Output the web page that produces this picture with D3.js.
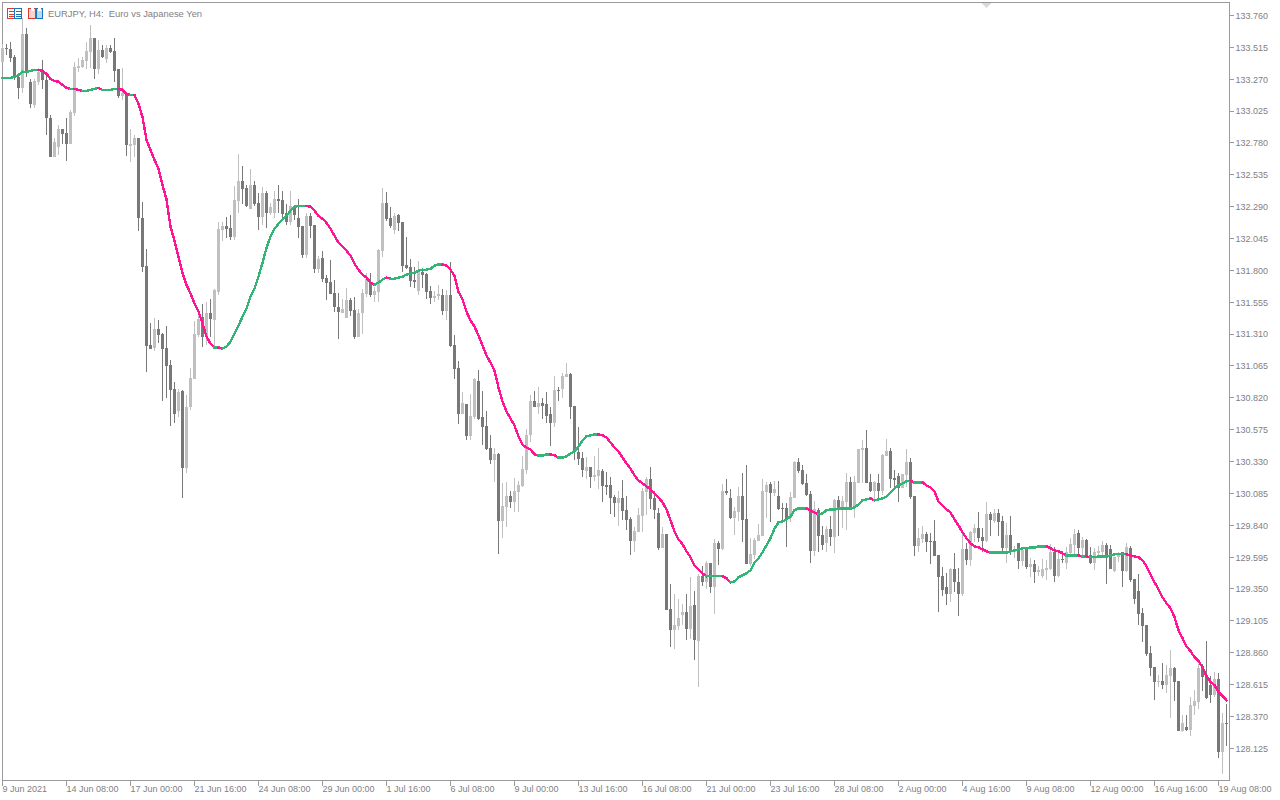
<!DOCTYPE html>
<html>
<head>
<meta charset="utf-8">
<script src="https://cdn.jsdelivr.net/npm/d3@7"></script>
<style>
    body { margin: 0; background: #fff; }
    text { font-family: "Liberation Sans", sans-serif; font-size: 9px; fill: #7f8085; }
    .title { font-size: 9.4px; }
</style>
</head>
<body>
<div id="chart"></div>
<script>
// EURJPY H4 candles
const priceTicks = [133.760, 133.515, 133.270, 133.025, 132.780, 132.535, 132.290, 132.045, 131.800, 131.555, 131.310, 131.065,
    130.820, 130.575, 130.330, 130.085, 129.840, 129.595, 129.350, 129.105, 128.860, 128.615, 128.370, 128.125];
const timeLabels = ["9 Jun 2021", "14 Jun 08:00", "17 Jun 00:00", "21 Jun 16:00", "24 Jun 08:00", "29 Jun 00:00", "1 Jul 16:00",
    "6 Jul 08:00", "9 Jul 00:00", "13 Jul 16:00", "16 Jul 08:00", "21 Jul 00:00", "23 Jul 16:00", "28 Jul 08:00", "2 Aug 00:00",
    "4 Aug 16:00", "9 Aug 08:00", "12 Aug 00:00", "16 Aug 16:00", "19 Aug 08:00"];

const opens = [133.403,133.510,133.503,133.441,133.288,133.203,133.618,133.249,133.073,133.249,133.334,133.265,132.973,132.673,132.750,132.888,132.858,132.773,133.011,133.357,
133.364,133.411,133.480,133.587,133.349,133.495,133.426,133.510,133.487,133.349,133.142,133.149,132.758,132.765,132.819,132.205,131.836,131.229,131.206,131.352,
131.314,131.206,131.076,130.891,130.715,130.876,130.277,130.746,130.968,131.306,131.444,131.299,131.475,131.421,131.636,132.113,132.143,132.128,132.059,132.335,
132.489,132.435,132.274,132.458,132.320,132.212,132.397,132.243,132.243,132.351,132.343,132.243,132.174,132.289,132.205,132.143,131.921,132.220,132.151,131.813,
131.898,131.744,131.713,131.629,131.521,131.475,131.437,131.575,131.498,131.291,131.475,131.621,131.713,131.613,131.636,131.951,132.320,132.205,132.113,132.228,
132.174,131.844,131.828,131.729,131.644,131.790,131.775,131.644,131.590,131.606,131.613,131.491,131.613,131.229,131.053,130.699,130.776,130.523,130.676,130.953,
130.669,130.600,130.431,130.339,130.385,129.870,129.978,130.062,130.016,130.093,130.139,130.262,130.531,130.792,130.746,130.784,130.769,130.692,130.630,130.884,
130.891,130.984,131.007,130.761,130.400,130.354,130.254,130.285,130.208,130.216,130.254,130.147,130.147,130.054,130.008,130.047,129.955,129.885,129.716,129.786,
129.908,130.093,130.193,130.047,129.931,129.663,129.770,129.194,129.033,129.064,129.148,129.171,129.041,129.225,128.948,129.448,129.402,129.548,129.363,129.701,
129.655,130.101,130.047,129.893,129.939,130.062,129.885,129.540,129.609,129.716,129.755,130.093,130.154,130.085,130.062,129.970,129.970,129.893,130.047,130.323,
130.262,130.162,130.077,129.640,129.955,129.763,129.701,129.809,129.747,130.031,129.962,130.016,130.170,129.970,130.162,130.415,130.438,130.170,130.101,130.162,
130.101,130.369,130.408,130.200,130.216,130.123,130.223,130.323,130.062,129.678,129.732,129.770,129.716,129.716,129.609,129.448,129.363,129.309,129.501,129.402,
129.309,129.655,129.570,129.778,129.816,129.747,129.716,129.924,129.870,129.932,129.870,129.663,129.763,129.632,129.701,129.563,129.663,129.517,129.540,129.478,
129.448,129.494,129.501,129.632,129.448,129.578,129.548,129.624,129.686,129.778,129.663,129.724,129.609,129.548,129.624,129.632,129.686,129.655,129.486,129.594,
129.632,129.486,129.663,129.425,129.332,129.164,129.071,128.856,128.749,128.634,128.641,128.611,128.680,128.741,128.641,128.257,128.288,128.265,128.449,128.480,
128.741,128.680,128.611,128.534,128.657,128.096,128.319];

const highs = [133.541,133.541,133.556,133.457,133.303,133.741,133.664,133.272,133.272,133.357,133.418,133.295,132.996,132.819,132.919,132.888,132.973,133.034,133.403,133.434,
133.441,133.556,133.687,133.587,133.572,133.533,133.533,133.533,133.587,133.349,133.357,133.149,132.888,132.842,132.819,132.328,131.967,131.398,131.437,131.421,
131.322,131.375,131.114,130.938,130.891,130.884,130.845,131.053,131.414,131.483,131.544,131.560,131.583,131.659,132.174,132.174,132.212,132.228,132.451,132.696,
132.604,132.458,132.581,132.489,132.397,132.443,132.412,132.320,132.412,132.458,132.412,132.312,132.412,132.305,132.351,132.143,132.243,132.243,132.151,131.913,
131.951,131.767,131.882,131.729,131.629,131.583,131.667,131.590,131.598,131.506,131.659,131.782,131.782,131.675,131.967,132.435,132.404,132.289,132.243,132.235,
132.174,132.059,131.890,131.828,131.875,131.821,131.782,131.683,131.644,131.690,131.659,131.652,131.867,131.306,131.107,130.861,130.776,130.853,130.976,131.037,
130.876,130.715,130.531,130.438,130.392,130.162,130.170,130.101,130.200,130.177,130.369,130.584,130.845,130.876,130.907,130.822,130.868,130.753,130.991,130.907,
131.014,131.091,131.014,130.761,130.592,130.400,130.362,130.285,130.369,130.438,130.269,130.246,130.208,130.070,130.101,130.185,130.062,129.901,129.824,129.970,
130.123,130.208,130.285,130.101,129.970,129.824,129.770,129.386,129.309,129.271,129.233,129.309,129.440,129.332,129.463,129.524,129.563,129.548,129.732,129.716,
130.154,130.193,130.116,129.978,130.131,130.239,130.300,129.739,129.739,129.847,130.193,130.170,130.170,130.177,130.177,130.008,130.008,130.093,130.331,130.354,
130.300,130.231,130.101,130.024,129.970,129.832,129.832,129.908,130.039,130.062,130.062,130.239,130.208,130.216,130.423,130.492,130.569,130.231,130.177,130.231,
130.385,130.507,130.438,130.262,130.239,130.231,130.423,130.354,130.062,129.816,129.832,129.786,129.778,129.878,129.609,129.517,129.471,129.509,129.624,129.509,
129.786,129.701,129.793,129.847,129.939,129.816,130.016,129.939,129.962,129.962,129.908,129.855,129.908,129.678,129.701,129.670,129.670,129.586,129.570,129.524,
129.578,129.570,129.693,129.670,129.640,129.640,129.670,129.739,129.809,129.801,129.747,129.732,129.670,129.663,129.678,129.716,129.701,129.686,129.594,129.632,
129.632,129.701,129.678,129.425,129.463,129.202,129.071,128.910,128.749,128.687,128.780,128.764,128.879,128.749,128.641,128.380,128.380,128.518,128.572,128.772,
128.772,128.948,128.680,128.710,128.703,128.396,128.465];

const lows = [133.403,133.457,133.403,133.265,133.119,133.165,133.288,133.050,133.050,133.226,133.195,132.842,132.673,132.673,132.689,132.773,132.643,132.773,132.988,133.326,
133.357,133.349,133.357,133.272,133.311,133.434,133.395,133.472,133.249,133.126,133.111,132.681,132.635,132.673,132.105,131.790,131.022,131.199,131.183,131.245,
130.799,130.822,130.607,130.630,130.676,130.047,130.239,130.723,130.961,131.291,131.214,131.229,131.291,131.222,131.613,132.028,132.051,132.036,132.036,132.243,
132.312,132.289,132.274,132.297,132.113,132.151,132.128,132.228,132.205,132.243,132.205,132.151,132.151,132.189,132.051,131.898,131.898,132.051,131.782,131.782,
131.713,131.575,131.621,131.483,131.276,131.475,131.437,131.452,131.276,131.291,131.314,131.598,131.598,131.560,131.560,131.905,132.182,132.128,132.082,132.105,
131.790,131.813,131.675,131.667,131.613,131.667,131.583,131.544,131.560,131.575,131.460,131.421,131.214,130.968,130.615,130.692,130.492,130.492,130.661,130.653,
130.461,130.415,130.315,130.170,129.617,129.739,129.824,129.970,129.939,129.939,130.131,130.231,130.477,130.746,130.692,130.661,130.623,130.446,130.592,130.792,
130.822,130.984,130.661,130.339,130.300,130.208,130.193,130.123,130.177,130.116,130.016,130.070,129.924,129.901,129.832,129.878,129.801,129.609,129.632,129.786,
129.786,129.916,129.962,129.885,129.647,129.663,129.187,128.902,128.887,129.033,129.071,128.956,128.964,128.803,128.595,129.371,129.348,129.317,129.156,129.532,
129.647,130.070,129.885,129.763,129.870,129.709,129.540,129.524,129.578,129.716,129.755,129.893,129.862,130.062,129.955,129.878,129.670,129.862,130.047,130.239,
130.147,130.062,129.548,129.601,129.632,129.647,129.632,129.678,129.624,129.755,129.816,129.801,129.962,129.893,130.162,130.162,130.162,130.093,130.016,130.024,
130.070,130.369,130.123,130.123,130.016,130.123,130.131,130.039,129.601,129.632,129.701,129.632,129.540,129.601,129.171,129.294,129.225,129.248,129.325,129.140,
129.294,129.532,129.524,129.709,129.709,129.632,129.709,129.755,129.855,129.755,129.640,129.548,129.609,129.586,129.501,129.524,129.501,129.440,129.394,129.448,
129.432,129.417,129.494,129.402,129.440,129.548,129.501,129.617,129.617,129.594,129.594,129.594,129.540,129.494,129.594,129.594,129.386,129.501,129.478,129.555,
129.363,129.478,129.402,129.233,129.071,128.941,128.833,128.680,128.495,128.595,128.580,128.549,128.357,128.488,128.257,128.250,128.257,128.219,128.380,128.426,
128.565,128.503,128.472,128.518,128.050,127.927,128.142];

const closes = [133.510,133.503,133.434,133.288,133.203,133.618,133.318,133.080,133.257,133.326,133.265,132.973,132.673,132.788,132.888,132.850,132.773,133.019,133.364,133.372,
133.418,133.487,133.587,133.349,133.495,133.441,133.510,133.480,133.334,133.142,133.165,132.765,132.773,132.819,132.205,131.828,131.222,131.199,131.352,131.306,
131.199,131.068,130.884,130.699,130.868,130.277,130.753,130.976,131.314,131.429,131.291,131.475,131.429,131.652,132.120,132.143,132.120,132.059,132.343,132.489,
132.427,132.297,132.458,132.312,132.212,132.397,132.243,132.289,132.351,132.335,132.235,132.174,132.297,132.228,132.136,131.921,132.220,132.143,131.813,131.890,
131.736,131.706,131.621,131.521,131.483,131.506,131.575,131.491,131.291,131.475,131.629,131.736,131.613,131.644,131.959,132.320,132.197,132.143,132.220,132.166,
131.836,131.821,131.721,131.713,131.790,131.767,131.636,131.590,131.606,131.621,131.491,131.613,131.222,131.045,130.699,130.784,130.523,130.684,130.961,130.661,
130.592,130.423,130.339,130.385,129.870,129.985,130.062,130.016,130.101,130.147,130.269,130.538,130.792,130.753,130.784,130.761,130.684,130.630,130.884,130.876,
130.991,131.007,130.753,130.400,130.346,130.262,130.285,130.208,130.223,130.262,130.139,130.131,130.047,130.008,130.047,129.947,129.878,129.716,129.793,129.916,
130.101,130.193,130.039,129.955,129.663,129.770,129.187,129.033,129.071,129.125,129.171,129.041,129.217,128.956,129.448,129.402,129.548,129.363,129.701,129.655,
130.101,130.085,129.893,129.947,130.062,129.878,129.540,129.617,129.724,129.763,130.101,130.147,130.085,130.116,129.962,129.962,129.885,130.054,130.323,130.254,
130.154,130.070,129.640,129.962,129.755,129.686,129.809,129.747,130.031,129.962,130.024,130.170,129.978,130.170,130.423,130.438,130.162,130.101,130.170,130.101,
130.377,130.408,130.193,130.185,130.123,130.231,130.323,130.054,129.678,129.739,129.770,129.709,129.709,129.601,129.440,129.340,129.309,129.501,129.402,129.309,
129.655,129.570,129.786,129.816,129.739,129.716,129.924,129.878,129.932,129.862,129.663,129.763,129.640,129.647,129.563,129.647,129.517,129.540,129.478,129.494,
129.501,129.509,129.632,129.448,129.578,129.570,129.632,129.693,129.770,129.663,129.724,129.601,129.548,129.632,129.640,129.686,129.609,129.501,129.594,129.617,
129.486,129.670,129.417,129.271,129.156,129.064,128.849,128.741,128.634,128.641,128.611,128.687,128.741,128.634,128.257,128.319,128.265,128.457,128.488,128.741,
128.672,128.511,128.534,128.657,128.096,128.319,128.311];

// moving average, one value per candle
const maValues = [133.280,133.280,133.280,133.288,133.303,133.326,133.326,133.334,133.341,133.341,133.334,133.311,133.272,133.257,133.249,133.226,133.203,133.195,133.195,133.188,
133.180,133.180,133.188,133.195,133.203,133.188,133.188,133.188,133.195,133.195,133.188,133.157,133.149,133.149,133.080,132.980,132.804,132.727,132.650,132.581,
132.458,132.343,132.136,132.028,131.905,131.782,131.690,131.621,131.544,131.483,131.391,131.291,131.237,131.206,131.206,131.199,131.214,131.252,131.314,131.375,
131.444,131.506,131.598,131.659,131.752,131.859,131.974,132.059,132.120,132.159,132.189,132.220,132.259,132.289,132.297,132.297,132.297,132.289,132.259,132.220,
132.197,132.166,132.120,132.067,132.013,131.982,131.951,131.913,131.851,131.805,131.767,131.744,131.706,131.690,131.706,131.729,131.744,131.736,131.736,131.744,
131.752,131.767,131.775,131.782,131.798,131.805,131.805,131.813,131.836,131.844,131.844,131.836,131.805,131.759,131.636,131.575,131.483,131.414,131.368,131.299,
131.222,131.145,131.091,131.030,130.899,130.792,130.715,130.661,130.607,130.523,130.461,130.438,130.423,130.385,130.377,130.377,130.385,130.385,130.377,130.362,
130.362,130.369,130.392,130.408,130.446,130.492,130.523,130.531,130.538,130.538,130.531,130.515,130.477,130.438,130.408,130.362,130.315,130.277,130.223,130.185,
130.162,130.139,130.116,130.085,130.054,130.016,129.962,129.878,129.793,129.732,129.694,129.640,129.594,129.532,129.501,129.471,129.448,129.448,129.448,129.448,
129.448,129.433,129.402,129.409,129.440,129.456,129.471,129.494,129.555,129.586,129.632,129.686,129.740,129.816,129.862,129.870,129.885,129.908,129.955,129.970,
129.970,129.970,129.955,129.939,129.924,129.932,129.955,129.962,129.962,129.970,129.970,129.970,129.970,129.978,130.001,130.031,130.039,130.047,130.031,130.039,
130.047,130.062,130.093,130.123,130.147,130.162,130.177,130.185,130.170,130.170,130.170,130.147,130.131,130.101,130.024,129.993,129.962,129.939,129.885,129.839,
129.786,129.740,129.701,129.678,129.670,129.655,129.640,129.632,129.632,129.632,129.632,129.632,129.640,129.647,129.655,129.663,129.663,129.670,129.670,129.678,
129.678,129.678,129.663,129.647,129.640,129.624,129.609,129.609,129.609,129.609,129.601,129.601,129.594,129.594,129.601,129.601,129.601,129.609,129.617,129.617,
129.617,129.617,129.609,129.601,129.594,129.571,129.525,129.463,129.402,129.348,129.286,129.240,129.202,129.133,129.033,128.972,128.910,128.872,128.826,128.795,
128.749,128.680,128.634,128.611,128.557,128.526,128.495];

const width = 1280, height = 800;
const frame = {left: 2.5, top: 2.5, right: 1229.5, bottom: 780.5};
const upColor = "#c0c0c0", downColor = "#787878", riseColor = "#33b575", fallColor = "#ff1493", axisColor = "#9a9a9e";

const svg = d3.select("#chart").append("svg")
    .attr("width", width)
    .attr("height", height)
    .style("display", "block");

// Scales and axes
const x = d3.scaleLinear().domain([0, opens.length - 1]).range([2.5, 1226.5]);
const y = d3.scaleLinear().domain([priceTicks[0], priceTicks[priceTicks.length - 1]]).range([15.5, 748.3]);

const xAxis = d3.axisBottom(x)
    .tickValues(timeLabels.map((d, i) => i * 16))
    .tickFormat((d, i) => timeLabels[i])
    .tickSize(5)
    .tickSizeOuter(0)
    .offset(0);
const yAxis = d3.axisRight(y)
    .tickValues(priceTicks)
    .tickFormat(d3.format(".3f"))
    .tickSize(4)
    .tickSizeOuter(0)
    .offset(0);

svg.append("g")
    .attr("class", "x-axis axis")
    .attr("transform", `translate(0, ${frame.bottom})`)
    .call(xAxis)
    .call(g => g.select(".domain").remove())
    .call(g => g.selectAll("text").attr("text-anchor", "start").attr("x", 0).attr("y", 5.5).attr("dy", "0.71em"));
svg.append("g")
    .attr("class", "y-axis axis")
    .attr("transform", `translate(${frame.right}, 0)`)
    .call(yAxis)
    .call(g => g.select(".domain").remove())
    .call(g => g.selectAll("text").attr("x", 6).attr("y", 0.5));
svg.selectAll(".axis line").attr("stroke", axisColor).attr("shape-rendering", "crispEdges");

svg.append("rect")
    .attr("x", frame.left)
    .attr("y", frame.top)
    .attr("width", frame.right - frame.left)
    .attr("height", frame.bottom - frame.top)
    .attr("fill", "none")
    .attr("stroke", axisColor)
    .attr("shape-rendering", "crispEdges");

// shift marker on the top edge
svg.append("path")
    .attr("d", "M981.5,3 L991.5,3 L986.5,8 Z")
    .attr("fill", "#d9d9dc");

// candles
const candles = svg.append("g")
    .selectAll("g")
    .data(opens.map((d, i) => i))
    .join("g")
    .attr("fill", i => closes[i] >= opens[i] ? upColor : downColor)
    .attr("shape-rendering", "crispEdges");
candles.append("rect")
    .attr("x", i => Math.floor(x(i)))
    .attr("y", i => Math.round(y(highs[i])))
    .attr("width", 1)
    .attr("height", i => Math.max(1, Math.round(y(lows[i])) - Math.round(y(highs[i]))));
candles.append("rect")
    .attr("x", i => Math.floor(x(i)) - 1)
    .attr("y", i => Math.round(y(Math.max(opens[i], closes[i]))))
    .attr("width", 3)
    .attr("height", i => Math.max(1, Math.round(y(Math.min(opens[i], closes[i]))) - Math.round(y(Math.max(opens[i], closes[i])))));

// moving average, colour follows direction
const line = d3.line().x(d => x(d)).y(d => y(maValues[d]));
svg.append("g")
    .selectAll("path")
    .data(d3.range(1, maValues.length))
    .join("path")
    .attr("d", i => line([i - 1, i]))
    .attr("fill", "none")
    .attr("stroke", i => maValues[i] >= maValues[i - 1] ? riseColor : fallColor)
    .attr("stroke-width", 2.4)
    .attr("stroke-linecap", "square")
    .attr("shape-rendering", "crispEdges");

// title icons
const icons = svg.append("g").attr("shape-rendering", "crispEdges");
icons.append("rect").attr("x", 7.5).attr("y", 8.5).attr("width", 7).attr("height", 10).attr("fill", "#fff").attr("stroke", "#e0382e");
icons.append("rect").attr("x", 14.5).attr("y", 8.5).attr("width", 7).attr("height", 10).attr("fill", "#fff").attr("stroke", "#1b74b8");
[11, 13.5, 16].forEach(ly => {
    icons.append("rect").attr("x", 9).attr("y", ly).attr("width", 5).attr("height", 1).attr("fill", "#e0382e");
    icons.append("rect").attr("x", 16).attr("y", ly).attr("width", 5).attr("height", 1).attr("fill", "#1b74b8");
});
icons.append("rect").attr("x", 28.5).attr("y", 8.5).attr("width", 7).attr("height", 10).attr("fill", "#fbd3cb").attr("stroke", "#e0382e");
icons.append("rect").attr("x", 36.5).attr("y", 8.5).attr("width", 6).attr("height", 10).attr("fill", "#b5daf2").attr("stroke", "#1b74b8");
icons.append("rect").attr("x", 31).attr("y", 8).attr("width", 3).attr("height", 3).attr("fill", "#fff");
icons.append("rect").attr("x", 38).attr("y", 8).attr("width", 3).attr("height", 3).attr("fill", "#fff");

// add title
svg.append("text")
    .attr("class", "title")
    .attr("x", 48)
    .attr("y", 17)
    .text("EURJPY, H4:  Euro vs Japanese Yen")
    .style("white-space", "pre");
</script>
</body>
</html>
